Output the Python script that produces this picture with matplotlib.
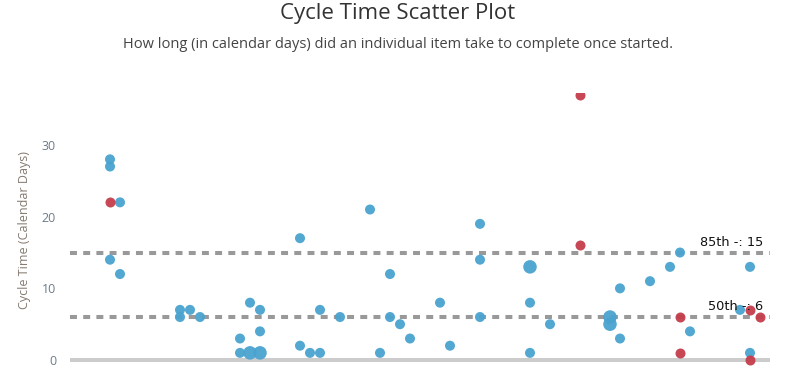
import matplotlib
matplotlib.use("Agg")
import matplotlib.pyplot as plt

# day index since start, cycle time in calendar days, items at that point
blue_days = [4, 4, 5, 4, 5, 11, 11, 12, 13, 17, 17, 18, 18, 19, 19, 19,
             23, 23, 24, 25, 25, 27, 30, 31, 32, 32, 33, 34, 37, 38, 41, 41,
             41, 46, 46, 46, 48, 54, 54, 55, 55, 58, 60, 61, 62, 67, 68, 68]
blue_times = [28, 27, 22, 14, 12, 7, 6, 7, 6, 3, 1, 1, 8, 7, 4, 1,
              17, 2, 1, 7, 1, 6, 21, 1, 12, 6, 5, 3, 8, 2, 19, 14,
              6, 13, 8, 1, 5, 6, 5, 10, 3, 11, 13, 15, 4, 7, 13, 1]
blue_counts = [1, 1, 1, 1, 1, 1, 1, 1, 1, 1, 1, 2, 1, 1, 1, 2,
               1, 1, 1, 1, 1, 1, 1, 1, 1, 1, 1, 1, 1, 1, 1, 1,
               1, 2, 1, 1, 1, 2, 2, 1, 1, 1, 1, 1, 1, 1, 1, 1]

red_days = [4, 51, 51, 61, 61, 68, 68, 69]
red_times = [22, 37, 16, 6, 1, 7, 0, 6]

percentiles = ["85th", "50th"]
percentile_values = [15, 6]

plt.rcParams["font.family"] = ["Open Sans", "DejaVu Sans"]
plt.rcParams["lines.scale_dashes"] = False

fig = plt.figure(figsize=(7.96, 3.84), dpi=100)
ax = fig.add_axes([70 / 796, 16.8 / 384, 700 / 796, 273.8 / 384])

ax.axhline(0, color="#cccccc", lw=2.9, zorder=1)
for name, val in zip(percentiles, percentile_values):
    ax.axhline(val, color="#999999", lw=2.9, dashes=(5, 4.5), zorder=1)
    ax.text(69.3, val + 0.5, f"{name} -: {val}", ha="right", va="bottom",
            fontsize=9.3, color="#111111", family="DejaVu Sans", zorder=4)

sizes = [52 if c == 1 else 95 for c in blue_counts]
ax.scatter(blue_days, blue_times, s=sizes, color="#4aa3cf", alpha=0.95,
           linewidths=0, zorder=2)
ax.scatter(red_days, red_times, s=52, color="#c43d4b", alpha=0.95,
           linewidths=0, zorder=3)

ax.set_xlim(0, 70)
ax.set_ylim(-1, 37.2)
ax.set_xticks([])
ax.set_yticks([0, 10, 20, 30])
ax.tick_params(axis="y", length=0, pad=10, labelsize=9, labelcolor="#6c7b8b")
for s in ax.spines.values():
    s.set_visible(False)
ax.set_ylabel("Cycle Time (Calendar Days)", fontsize=9, color="#857a70",
              labelpad=8)

fig.text(0.5, 1 - 14 / 384, "Cycle Time Scatter Plot", ha="center",
         va="center", fontsize=16, color="#333333")
fig.text(0.5, 1 - 44.5 / 384,
         "How long (in calendar days) did an individual item take to complete once started.",
         ha="center", va="center", fontsize=10.5, color="#444444")

fig.savefig("out.png", dpi=100)
plt.close()
